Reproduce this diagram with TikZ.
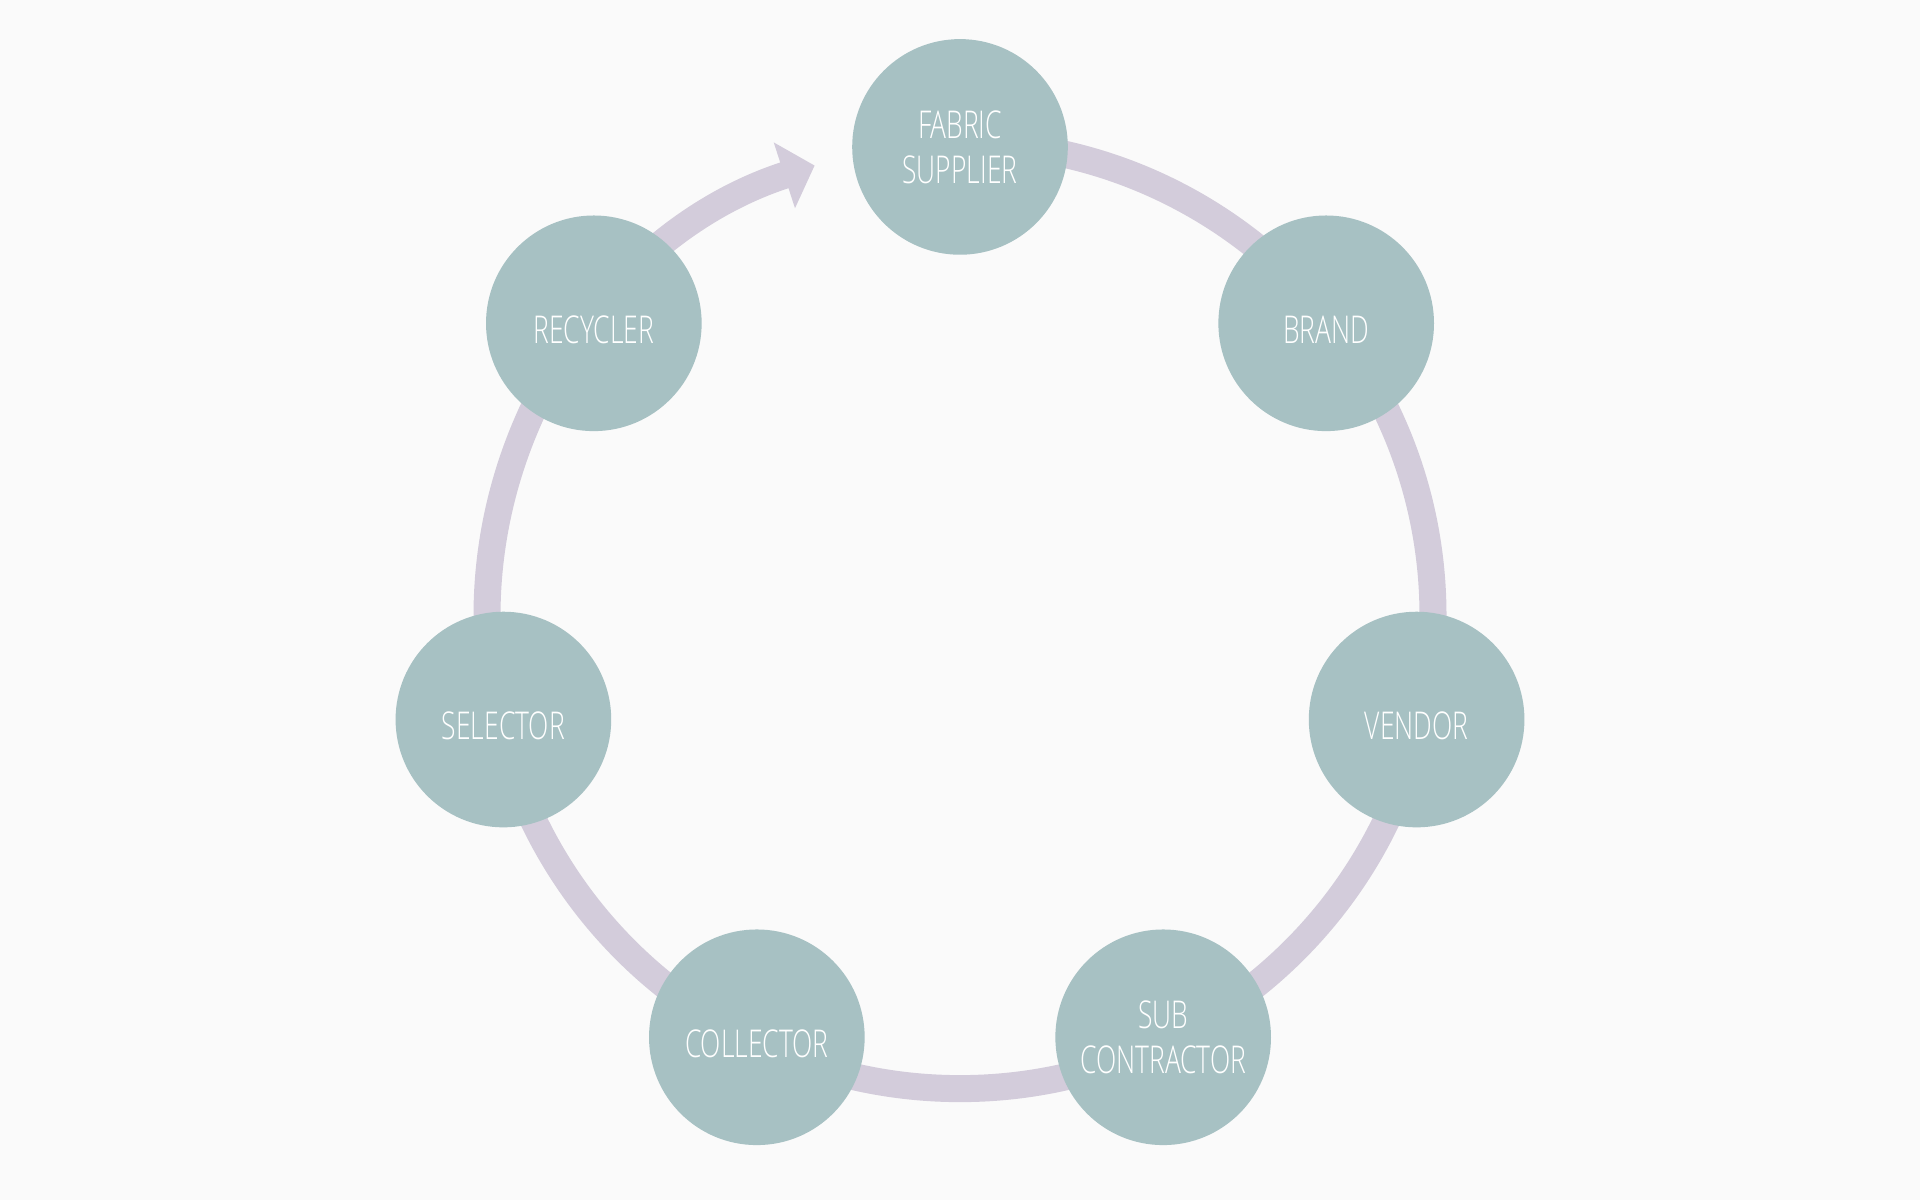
\documentclass[tikz,border=0pt]{standalone}
\usepackage{fontspec}
\setmainfont{Open Sans Light}[FakeStretch=0.69]
\usetikzlibrary{arrows.meta}
\definecolor{bgc}{HTML}{FAFAFA}
\definecolor{nodec}{HTML}{A7C1C3}
\definecolor{ringc}{HTML}{D3CCDB}
\pgfdeclarelayer{back}
\pgfdeclarelayer{ringlayer}
\pgfsetlayers{back,ringlayer,main}
\newcommand{\oneline}[1]{\raisebox{-1.7pt}[\height][0pt]{#1}}
\begin{document}
\begin{tikzpicture}[x=0.012245cm, y=0.012245cm,
  actor/.style={circle, fill=nodec, draw=none, minimum size=2.155cm, inner sep=0pt,
    text=white, align=center, font=\fontsize{10.9}{12.8}\selectfont},
  ring/.style={draw=ringc, line width=0.27cm,
    -{Triangle[length=0.318cm, width=0.673cm]}}]
\begin{pgfonlayer}{back}
\fill[bgc] (0,0) rectangle (1568,980);
\end{pgfonlayer}
\useasboundingbox (0,0) rectangle (1568,980);
\coordinate (O) at (784,477.5);
\path (O) ++(90:382.5) node[actor] (fab) {FABRIC\\SUPPLIER};
\path (O) ++(38.57:382.5) node[actor] (brand) {\oneline{BRAND}};
\path (O) ++(-12.86:382.5) node[actor] (vendor) {\oneline{VENDOR}};
\path (O) ++(-64.29:382.5) node[actor] (sub) {SUB\\CONTRACTOR};
\path (O) ++(-115.71:382.5) node[actor] (coll) {\oneline{COLLECTOR}};
\path (O) ++(-167.14:382.5) node[actor] (sel) {\oneline{SELECTOR}};
\path (O) ++(141.43:382.5) node[actor] (rec) {\oneline{RECYCLER}};
\begin{pgfonlayer}{ringlayer}
\draw[ring] (fab.center) ++(0,3.5) arc[start angle=90, end angle=-252.1, radius=4.727cm];
\end{pgfonlayer}
\end{tikzpicture}
\end{document}
